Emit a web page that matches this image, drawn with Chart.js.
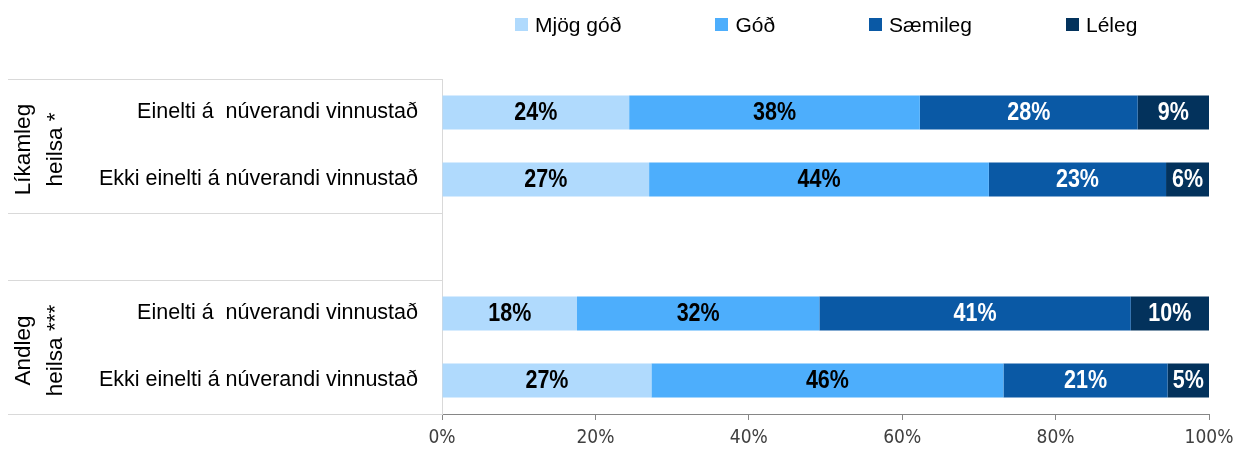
<!DOCTYPE html>
<html>
<head>
<meta charset="utf-8">
<script src="https://cdn.jsdelivr.net/npm/chart.js@4.4.1/dist/chart.umd.min.js"></script>
<style>
body { margin: 0; background: #fff; }
#wrap { position: relative; width: 1239px; height: 454px; }
#legend {
    position: absolute; left: 515px; top: 14px;
    display: flex; font: 21px "Liberation Sans", Arial, sans-serif;
    line-height: 21px; color: #000;
}
#legend .item { display: flex; align-items: center; margin-right: 94px; }
#legend .item:last-child { margin-right: 0; }
#legend .box { width: 13px; height: 13px; margin-right: 7px; }
</style>
</head>
<body>
<div id="wrap">
<canvas id="healthChart"></canvas>
<div id="legend"></div>
</div>
<script>
// ================================
// DATA
// ================================

const categories = [
    "Einelti á  núverandi vinnustað",
    "Ekki einelti á núverandi vinnustað",
    "",
    "Einelti á  núverandi vinnustað",
    "Ekki einelti á núverandi vinnustað"
];

const seriesNames = ["Mjög góð", "Góð", "Sæmileg", "Léleg"];

const mjogGod = [24.4, 27.0, null, 17.6, 27.3];
const god = [37.9, 44.3, null, 31.6, 45.9];
const saemileg = [28.4, 23.1, null, 40.6, 21.4];
const leleg = [9.3, 5.6, null, 10.2, 5.4];

const tickLabels = ["0%", "20%", "40%", "60%", "80%", "100%"];

const groupLabels = [
    { lines: ["Líkamleg", "heilsa *"], from: 0, to: 1 },
    { lines: ["Andleg", "heilsa ***"], from: 3, to: 4 }
];

const colors = ["#b0dafd", "#4daefc", "#0a59a5", "#03325c"];
const labelColors = ["#000", "#000", "#fff", "#fff"];

const narrow = '"DejaVu Sans Condensed", "Liberation Sans", sans-serif';
const regular = '"Liberation Sans", Arial, sans-serif';

// ================================
// PLUGINS
// ================================

// bold labels, squeezed sideways to look like a narrow face
const barLabels = {
    id: "barLabels",
    afterDatasetsDraw(chart) {
        const ctx = chart.ctx;
        ctx.save();
        ctx.font = "bold 25px " + regular;
        ctx.textAlign = "center";
        ctx.textBaseline = "middle";
        chart.data.datasets.forEach((ds, di) => {
            const meta = chart.getDatasetMeta(di);
            meta.data.forEach((bar, i) => {
                const v = ds.data[i];
                if (v == null) return;
                ctx.save();
                ctx.translate((bar.x + bar.base) / 2, bar.y + 1);
                ctx.scale(0.86, 1);
                ctx.fillStyle = labelColors[di];
                ctx.fillText(Math.round(v) + "%", 0, 0);
                ctx.restore();
            });
        });
        ctx.restore();
    }
};

const groupAxis = {
    id: "groupAxis",
    afterDraw(chart) {
        const ctx = chart.ctx;
        const y = chart.scales.y;
        const half = (y.getPixelForValue(1) - y.getPixelForValue(0)) / 2;
        const left = chart.chartArea.left;
        ctx.save();
        ctx.strokeStyle = "#d9d9d9";
        ctx.lineWidth = 1;
        groupLabels.forEach(g => {
            const top = Math.round(y.getPixelForValue(g.from) - half) + 0.5;
            const bottom = Math.round(y.getPixelForValue(g.to) + half) + 0.5;
            [top, bottom].forEach(py => {
                ctx.beginPath();
                ctx.moveTo(8, py);
                ctx.lineTo(left, py);
                ctx.stroke();
            });
            ctx.save();
            ctx.translate(40, (top + bottom) / 2 + 3);
            ctx.rotate(-Math.PI / 2);
            ctx.fillStyle = "#000";
            ctx.font = "22.5px " + regular;
            ctx.textAlign = "center";
            ctx.textBaseline = "middle";
            ctx.fillText(g.lines[0], 0, -16);
            ctx.fillText(g.lines[1], 0, 16);
            ctx.restore();
        });
        ctx.restore();
    }
};

// ================================
// CHART
// ================================

const seriesValues = [mjogGod, god, saemileg, leleg];

const chartCtx = document.getElementById("healthChart");

new Chart(chartCtx, {
    type: "bar",

    data: {
        labels: categories,
        datasets: seriesNames.map((name, i) => ({
            label: name,
            data: seriesValues[i],
            backgroundColor: colors[i],
            borderWidth: 0,
            categoryPercentage: 1,
            barPercentage: 0.51
        }))
    },

    options: {
        indexAxis: "y",
        responsive: true,
        maintainAspectRatio: false,
        animation: false,
        layout: {
            padding: { top: 79, right: 30, left: 0, bottom: 0 }
        },
        plugins: {
            legend: { display: false },
            tooltip: { enabled: false }
        },
        scales: {
            x: {
                stacked: true,
                min: 0,
                max: 100,
                afterFit(scale) {
                    scale.height = 40;
                    scale.paddingLeft = 0;
                    scale.paddingRight = 0;
                },
                ticks: {
                    stepSize: 20,
                    padding: 7,
                    color: "#404040",
                    font: { family: narrow, size: 19 },
                    callback: (v, i) => tickLabels[i]
                },
                grid: {
                    drawOnChartArea: false,
                    tickLength: 6,
                    color: "#868686"
                },
                border: { color: "#868686" }
            },
            y: {
                stacked: true,
                afterFit(scale) { scale.width = 442; },
                ticks: {
                    padding: 24,
                    color: "#000",
                    font: { family: regular, size: 21.5 }
                },
                grid: { display: false, drawTicks: false, tickLength: 0 },
                border: { color: "#d9d9d9" }
            }
        }
    },

    plugins: [barLabels, groupAxis]
});

// ================================
// LEGEND
// ================================

const legendBox = document.getElementById("legend");

seriesNames.forEach((name, i) => {
    const item = document.createElement("div");
    item.className = "item";
    item.innerHTML = '<span class="box" style="background:' + colors[i] + '"></span>' + name;
    legendBox.appendChild(item);
});
</script>
</body>
</html>
